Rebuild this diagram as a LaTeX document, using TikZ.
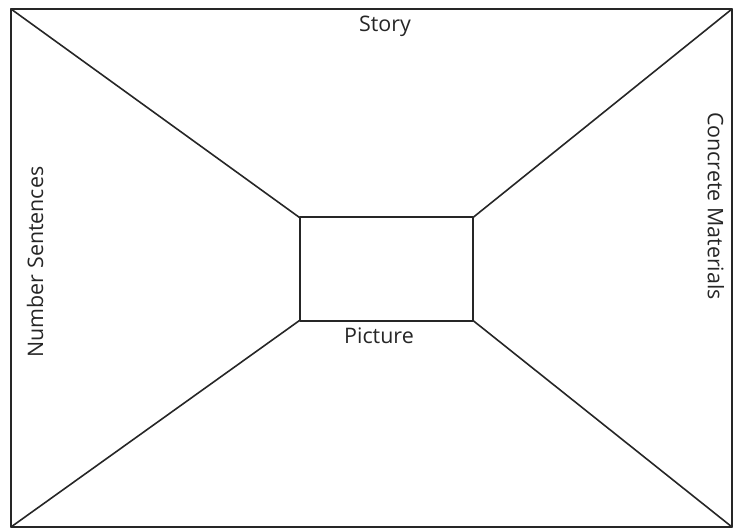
\documentclass[tikz,border=0pt]{standalone}
\usepackage{fontspec}
\setmainfont{Open Sans}
\begin{document}
\begin{tikzpicture}[x=1bp, y=-1bp, line join=round, line cap=round,
  frame/.style={line width=2bp, black!85},
  label/.style={font=\fontsize{21.5}{24}\selectfont, text=black!85, inner sep=0pt}]
  \useasboundingbox (0,0) rectangle (739,528);
  % outer frame
  \coordinate (OTL) at (11,9);
  \coordinate (OTR) at (732,9);
  \coordinate (OBR) at (732,527);
  \coordinate (OBL) at (11,527);
  \draw[frame] (OTL) -- (OTR) -- (OBR) -- (OBL) -- cycle;
  % inner box
  \coordinate (ITL) at (299.5,217.5);
  \coordinate (ITR) at (473,217.5);
  \coordinate (IBR) at (473,320.5);
  \coordinate (IBL) at (299.5,320.5);
  \draw[frame] (ITL) -- (ITR) -- (IBR) -- (IBL) -- cycle;
  % diagonals
  \draw[frame, line width=1.6bp] (OTL) -- (ITL);
  \draw[frame, line width=1.6bp] (OTR) -- (ITR);
  \draw[frame, line width=1.6bp] (OBR) -- (IBR);
  \draw[frame, line width=1.6bp] (OBL) -- (IBL);
  % labels
  \node[label] (story) at (385,26) {Story};
  \node[label] (picture) at (379,336) {Picture};
  \node[label, rotate=90] (numsent) at (35,262) {Number Sentences};
  \node[label, rotate=-90] (concrete) at (716,206) {Concrete Materials};
\end{tikzpicture}
\end{document}
